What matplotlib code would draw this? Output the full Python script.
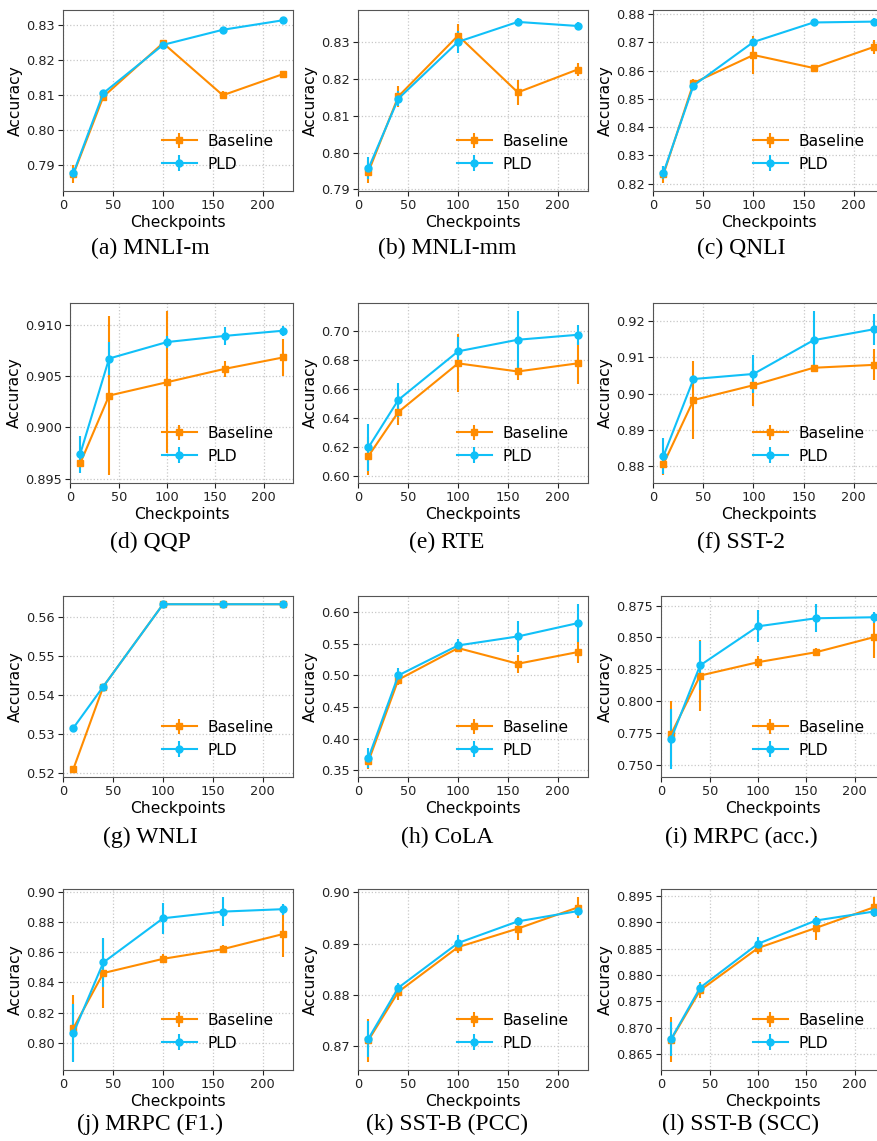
import matplotlib
matplotlib.use("Agg")
import matplotlib.pyplot as plt
from matplotlib.ticker import MultipleLocator

# ---------------- data ----------------
checkpoints = [10, 40, 100, 160, 220]

mnli_m_base = [0.7873, 0.8094, 0.8247, 0.8098, 0.8158]
mnli_m_base_err = [0.0025, 0.0010, 0.0008, 0.0012, 0.0005]
mnli_m_pld = [0.7876, 0.8104, 0.8242, 0.8285, 0.8312]
mnli_m_pld_err = [0.0015, 0.0008, 0.0006, 0.0007, 0.0006]

mnli_mm_base = [0.7948, 0.8152, 0.8317, 0.8163, 0.8225]
mnli_mm_base_err = [0.0030, 0.0028, 0.0030, 0.0034, 0.0018]
mnli_mm_pld = [0.7957, 0.8146, 0.8300, 0.8354, 0.8343]
mnli_mm_pld_err = [0.0030, 0.0020, 0.0030, 0.0010, 0.0010]

qnli_base = [0.8233, 0.8556, 0.8655, 0.8609, 0.8683]
qnli_base_err = [0.0030, 0.0015, 0.0066, 0.0005, 0.0025]
qnli_pld = [0.8239, 0.8547, 0.8701, 0.8770, 0.8773]
qnli_pld_err = [0.0022, 0.0010, 0.0010, 0.0012, 0.0012]

qqp_base = [0.8965, 0.9031, 0.9044, 0.9057, 0.9068]
qqp_base_err = [0.0003, 0.0077, 0.0069, 0.0008, 0.0018]
qqp_pld = [0.8974, 0.9067, 0.9083, 0.9089, 0.9094]
qqp_pld_err = [0.0018, 0.0016, 0.0006, 0.0009, 0.0005]

rte_base = [0.6141, 0.6444, 0.6780, 0.6724, 0.6780]
rte_base_err = [0.0130, 0.0090, 0.0200, 0.0060, 0.0145]
rte_pld = [0.6200, 0.6528, 0.6863, 0.6943, 0.6977]
rte_pld_err = [0.0160, 0.0115, 0.0097, 0.0197, 0.0070]

sst2_base = [0.8806, 0.8982, 0.9023, 0.9071, 0.9079]
sst2_base_err = [0.0030, 0.0107, 0.0058, 0.0010, 0.0043]
sst2_pld = [0.8828, 0.9040, 0.9054, 0.9147, 0.9177]
sst2_pld_err = [0.0050, 0.0005, 0.0053, 0.0080, 0.0043]

wnli_base = [0.5212, 0.5423, 0.5634, 0.5634, 0.5634]
wnli_base_err = [0.0, 0.0, 0.0, 0.0, 0.0]
wnli_pld = [0.5317, 0.5423, 0.5634, 0.5634, 0.5634]
wnli_pld_err = [0.0, 0.0, 0.0, 0.0, 0.0]

cola_base = [0.3642, 0.4932, 0.5432, 0.5184, 0.5368]
cola_base_err = [0.012, 0.009, 0.005, 0.014, 0.018]
cola_pld = [0.3695, 0.5000, 0.5474, 0.5616, 0.5826]
cola_pld_err = [0.016, 0.012, 0.010, 0.024, 0.030]

mrpc_acc_base = [0.7743, 0.8201, 0.8306, 0.8384, 0.8502]
mrpc_acc_base_err = [0.0260, 0.0280, 0.0045, 0.0030, 0.0165]
mrpc_acc_pld = [0.7706, 0.8281, 0.8587, 0.8650, 0.8658]
mrpc_acc_pld_err = [0.0235, 0.0190, 0.0124, 0.0110, 0.0045]

mrpc_f1_base = [0.8099, 0.8462, 0.8556, 0.8620, 0.8719]
mrpc_f1_base_err = [0.0220, 0.0228, 0.0030, 0.0025, 0.0148]
mrpc_f1_pld = [0.8066, 0.8532, 0.8824, 0.8868, 0.8884]
mrpc_f1_pld_err = [0.0190, 0.0160, 0.0103, 0.0095, 0.0037]

sstb_pcc_base = [0.8712, 0.8806, 0.8893, 0.8929, 0.8970]
sstb_pcc_base_err = [0.0042, 0.0015, 0.0012, 0.0023, 0.0020]
sstb_pcc_pld = [0.8715, 0.8814, 0.8901, 0.8943, 0.8963]
sstb_pcc_pld_err = [0.0035, 0.0009, 0.0016, 0.0006, 0.0008]

sstb_scc_base = [0.8678, 0.8771, 0.8851, 0.8889, 0.8928]
sstb_scc_base_err = [0.0042, 0.0015, 0.0012, 0.0022, 0.0019]
sstb_scc_pld = [0.8679, 0.8776, 0.8859, 0.8903, 0.8920]
sstb_scc_pld_err = [0.0033, 0.0008, 0.0012, 0.0006, 0.0008]

captions = ["(a) MNLI-m", "(b) MNLI-mm", "(c) QNLI",
            "(d) QQP", "(e) RTE", "(f) SST-2",
            "(g) WNLI", "(h) CoLA", "(i) MRPC (acc.)",
            "(j) MRPC (F1.)", "(k) SST-B (PCC)", "(l) SST-B (SCC)"]

x_ticks = [0, 50, 100, 150, 200]
y_steps = [0.01, 0.01, 0.01, 0.005, 0.02, 0.01, 0.01, 0.05, 0.025, 0.02, 0.01, 0.005]

panels = [
    (mnli_m_base, mnli_m_base_err, mnli_m_pld, mnli_m_pld_err),
    (mnli_mm_base, mnli_mm_base_err, mnli_mm_pld, mnli_mm_pld_err),
    (qnli_base, qnli_base_err, qnli_pld, qnli_pld_err),
    (qqp_base, qqp_base_err, qqp_pld, qqp_pld_err),
    (rte_base, rte_base_err, rte_pld, rte_pld_err),
    (sst2_base, sst2_base_err, sst2_pld, sst2_pld_err),
    (wnli_base, wnli_base_err, wnli_pld, wnli_pld_err),
    (cola_base, cola_base_err, cola_pld, cola_pld_err),
    (mrpc_acc_base, mrpc_acc_base_err, mrpc_acc_pld, mrpc_acc_pld_err),
    (mrpc_f1_base, mrpc_f1_base_err, mrpc_f1_pld, mrpc_f1_pld_err),
    (sstb_pcc_base, sstb_pcc_base_err, sstb_pcc_pld, sstb_pcc_pld_err),
    (sstb_scc_base, sstb_scc_base_err, sstb_scc_pld, sstb_scc_pld_err),
]

# ---------------- layout (pixels) ----------------
W, H = 878, 1141
row_tb = [(10, 191), (303, 483), (596, 777), (889, 1070)]
col_lr = [[(63, 293), (358, 588), (653, 884)],
          [(70, 293), (358, 588), (653, 884)],
          [(63, 293), (358, 588), (661, 884)],
          [(63, 293), (358, 588), (661, 884)]]
cap_x = [150, 447, 741]
cap_y = [248, 542, 837, 1124]

ORANGE = "#ff8c00"
BLUE = "#10c0f8"

fig = plt.figure(figsize=(W / 100, H / 100), dpi=100)

for i, (b, be, p, pe) in enumerate(panels):
    r, c = divmod(i, 3)
    top, bot = row_tb[r]
    left, right = col_lr[r][c]
    ax = fig.add_axes([left / W, 1 - bot / H, (right - left) / W, (bot - top) / H])
    ax.errorbar(checkpoints, b, yerr=be, color=ORANGE, marker="s", markersize=5,
                linewidth=1.5, elinewidth=1.5, capsize=0, label="Baseline")
    ax.errorbar(checkpoints, p, yerr=pe, color=BLUE, marker="o", markersize=5,
                linewidth=1.5, elinewidth=1.5, capsize=0, label="PLD")
    ax.set_xticks(x_ticks)
    ax.yaxis.set_major_locator(MultipleLocator(y_steps[i]))
    ax.grid(True, linestyle=":", color="#c8c8c8", linewidth=0.9)
    ax.set_axisbelow(True)
    ax.tick_params(labelsize=9.3, colors="#222222", length=3.5, pad=2.5)
    for s in ax.spines.values():
        s.set_color("#555555")
    ax.set_xlabel("Checkpoints", fontsize=11.2, labelpad=2)
    ax.set_ylabel("Accuracy", fontsize=11.2, labelpad=2)
    ax.legend(loc="lower right", frameon=False, fontsize=11.2, handlelength=2.3,
              handletextpad=0.65, borderaxespad=0.85)
    fig.text(cap_x[c] / W, 1 - cap_y[r] / H, captions[i], ha="center", va="center",
             fontsize=17, family="Liberation Serif")

fig.savefig("out.png", dpi=100)
